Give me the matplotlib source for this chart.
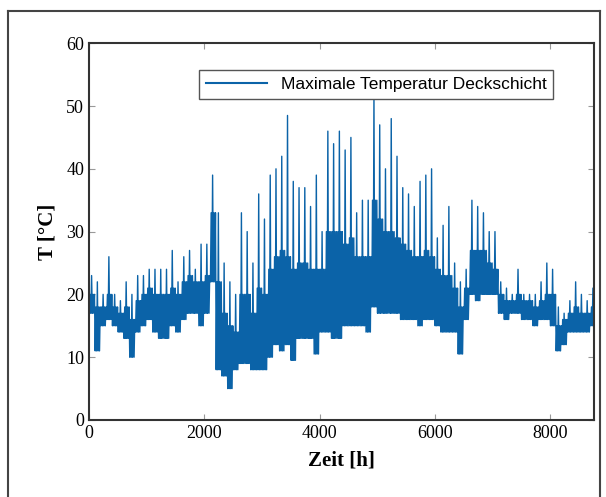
import matplotlib.pyplot as plt
from matplotlib.lines import Line2D

# hourly max temperature of the top layer, read as 100 h bins:
# peak, typical daily top of the dense band, and lower envelope
bin_start = list(range(0, 8800, 100))
t_high = [23, 22, 20, 26, 20, 19, 22, 20, 23, 23,
          24, 24, 24, 24, 27, 22, 26, 27, 24, 28,
          28, 39, 33, 25, 22, 20, 33, 30, 25, 36,
          32, 39, 40, 42, 48.5, 38, 37, 37, 34, 39,
          30, 46, 44, 46, 43, 45, 33, 35, 35, 52,
          47, 40, 48, 42, 37, 36, 34, 38, 39, 40,
          29, 31, 34, 25, 22, 24, 35, 34, 33, 30,
          30, 22, 21, 20, 24, 20, 20, 20, 22, 25,
          24, 18, 17, 19, 22, 20, 19, 21]
t_mid = [20, 18, 18, 20, 18, 17, 18, 16, 19, 20,
         21, 20, 20, 20, 21, 20, 22, 23, 22, 22,
         23, 33, 22, 17, 15, 14, 20, 20, 17, 21,
         20, 24, 26, 27, 26, 24, 25, 25, 24, 24,
         24, 30, 30, 30, 28, 29, 26, 26, 26, 35,
         32, 30, 30, 29, 28, 27, 26, 26, 27, 26,
         24, 23, 23, 21, 18, 21, 27, 27, 27, 25,
         24, 20, 19, 19, 20, 19, 19, 18, 19, 20,
         20, 15, 16, 17, 18, 17, 17, 18]
t_low = [17, 11, 15, 16, 15, 14, 13, 10, 14, 15,
         16, 14, 13, 13, 15, 14, 16, 17, 17, 15,
         17, 22, 8, 7, 5, 8, 9, 9, 8, 8,
         8, 10, 12, 11, 12, 9.5, 13, 13, 13, 10.5,
         14, 14, 13, 13, 15, 15, 15, 15, 14, 18,
         17, 17, 17, 17, 16, 16, 16, 15, 16, 16,
         15, 14, 14, 14, 10.5, 16, 20, 19, 20, 20,
         20, 17, 16, 17, 17, 16, 16, 15, 16, 16,
         15, 11, 12, 14, 14, 14, 14, 15]


def build_series(starts, highs, mids, lows):
    xs, ys = [], []
    for h, hi, md, lo in zip(starts, highs, mids, lows):
        pattern = [lo, md, lo, hi, lo, md, lo, md]
        for k, v in enumerate(pattern):
            xs.append(h + 6 + k * 12.5)
            ys.append(v)
    return xs, ys


def main():
    plt.rcParams['font.family'] = ['Liberation Serif', 'DejaVu Serif']
    fig = plt.figure(figsize=(6.06, 4.97), dpi=100)
    ax = fig.add_axes([0.147, 0.155, 0.833, 0.758])

    xs, ys = build_series(bin_start, t_high, t_mid, t_low)
    ax.plot(xs, ys, color='#0b63a8', lw=1.0, label='Maximale Temperatur Deckschicht')

    ax.set_xlim(0, 8760)
    ax.set_ylim(0, 60)
    ax.set_xticks([0, 2000, 4000, 6000, 8000])
    ax.set_yticks(range(0, 61, 10))
    ax.tick_params(direction='in', top=True, right=True, labelsize=13,
                   color='#999999', length=4)
    for s in ax.spines.values():
        s.set_color('#333333')
        s.set_linewidth(1.5)
    ax.set_xlabel('Zeit [h]', fontsize=15, fontweight='bold', labelpad=6)
    ax.set_ylabel('T [°C]', fontsize=15, fontweight='bold', labelpad=6)

    leg = ax.legend(loc='upper right', bbox_to_anchor=(0.92, 0.93), borderaxespad=0,
                    fancybox=False, edgecolor='#555555', framealpha=1,
                    prop={'family': 'Liberation Sans', 'size': 12.5},
                    handlelength=3.5)
    leg.get_frame().set_linewidth(1.0)
    for line in leg.get_lines():
        line.set_linewidth(1.5)

    # outer frame of the figure panel (open at the bottom)
    fx0, fx1, fy1 = 8 / 606, 600 / 606, 1 - 11 / 497
    for xd, yd in [([fx0, fx0], [0, fy1]), ([fx0, fx1], [fy1, fy1]), ([fx1, fx1], [fy1, 0])]:
        fig.add_artist(Line2D(xd, yd, color='#444444', lw=1.5, transform=fig.transFigure))

    fig.savefig('out.png', dpi=100)


if __name__ == '__main__':
    main()
